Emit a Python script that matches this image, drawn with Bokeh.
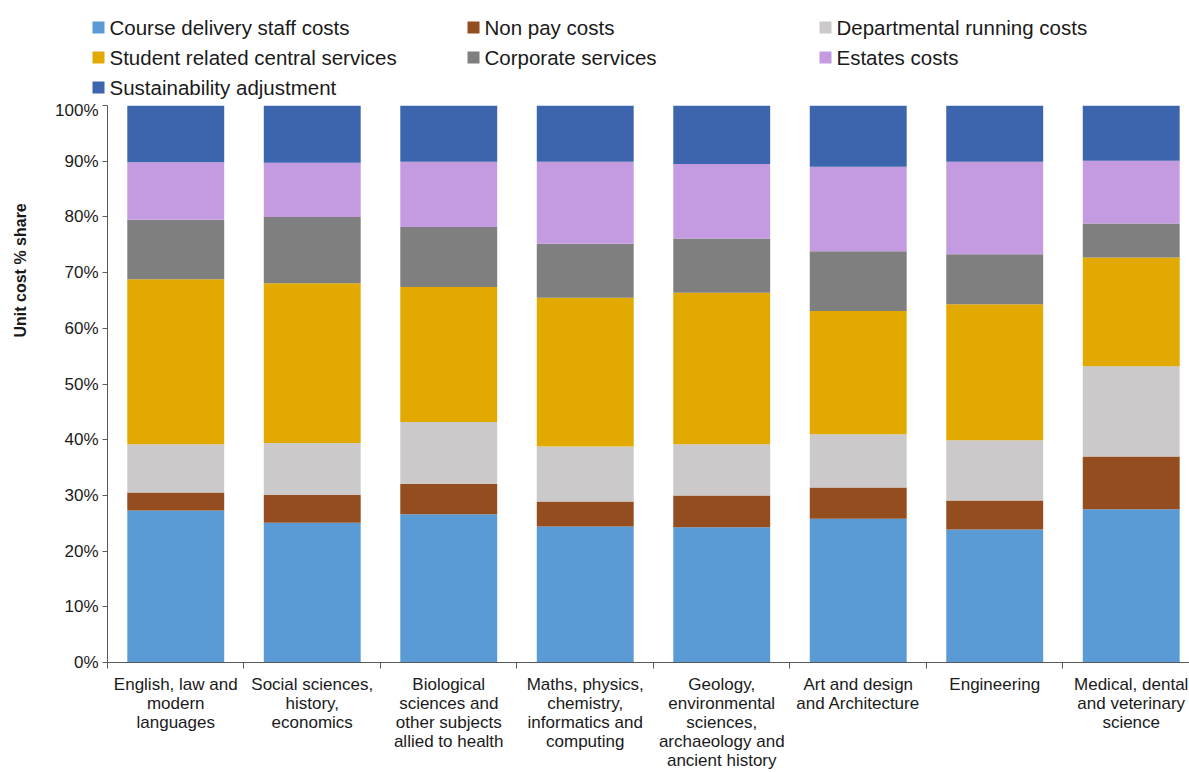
import math
from bokeh.plotting import figure
from bokeh.models import (Range1d, FixedTicker, LinearAxis, PrintfTickFormatter,
                          ColumnDataSource)
from bokeh.layouts import row
from bokeh.embed import file_html
from bokeh.resources import INLINE
from bokeh.core.properties import value

# ---------------- data ----------------
categories = [
    "English, law and\nmodern\nlanguages",
    "Social sciences,\nhistory,\neconomics",
    "Biological\nsciences and\nother subjects\nallied to health",
    "Maths, physics,\nchemistry,\ninformatics and\ncomputing",
    "Geology,\nenvironmental\nsciences,\narchaeology and\nancient history",
    "Art and design\nand Architecture",
    "Engineering",
    "Medical, dental\nand veterinary\nscience",
]
series = [
    "Course delivery staff costs",
    "Non pay costs",
    "Departmental running costs",
    "Student related central services",
    "Corporate services",
    "Estates costs",
    "Sustainability adjustment",
]
course_delivery = [27.3, 25.1, 26.6, 24.4, 24.3, 25.8, 23.9, 27.5]
non_pay = [3.2, 5.0, 5.5, 4.5, 5.7, 5.6, 5.2, 9.5]
departmental = [8.7, 9.3, 11.1, 9.9, 9.2, 9.6, 10.8, 16.2]
student_related = [29.6, 28.7, 24.2, 26.7, 27.2, 22.1, 24.4, 19.5]
corporate = [10.7, 11.9, 10.8, 9.7, 9.7, 10.75, 9.0, 6.1]
estates = [10.3, 9.7, 11.7, 14.7, 13.4, 15.15, 16.6, 11.3]
sustainability = [10.2, 10.3, 10.1, 10.1, 10.5, 11.0, 10.1, 9.9]
y_ticks = list(range(0, 101, 10))
y_title = "Unit cost % share"

colors = ["#5B9BD5", "#934D1E", "#CBC9C9", "#E2A900", "#7F7F7F", "#C49BE0", "#3D65AD"]
FONT = "Liberation Sans"

keys = ["s%d" % i for i in range(len(series))]
xs = [i + 0.5 for i in range(len(categories))]
data = dict(x=xs)
for k, vals in zip(keys, [course_delivery, non_pay, departmental, student_related,
                          corporate, estates, sustainability]):
    data[k] = vals
src = ColumnDataSource(data)

yr = Range1d(0, 100)

# ---------------- main chart ----------------
p = figure(width=1149, height=672, output_backend="svg", toolbar_location=None,
           x_range=Range1d(0, 7.927), y_range=yr,
           x_axis_type=None, y_axis_type=None,
           min_border_left=67, min_border_right=0, min_border_top=5,
           min_border_bottom=109)
p.outline_line_color = None
p.background_fill_color = "white"

p.vbar_stack(keys, x="x", width=0.71, source=src, color=colors, line_color=None)

yaxis = LinearAxis(ticker=FixedTicker(ticks=y_ticks),
                   formatter=PrintfTickFormatter(format="%d%%"))
yaxis.major_tick_out = 5
yaxis.major_tick_in = 0
yaxis.minor_tick_out = 0
yaxis.minor_tick_in = 0
yaxis.axis_line_color = "#595959"
yaxis.major_tick_line_color = "#595959"
yaxis.major_label_text_font = FONT
yaxis.major_label_text_font_size = "17px"
yaxis.major_label_text_color = "#1a1a1a"
yaxis.major_label_standoff = 4
p.add_layout(yaxis, "left")

xaxis = LinearAxis(ticker=FixedTicker(ticks=xs, minor_ticks=list(range(0, 9))))
xaxis.major_label_overrides = {x: c for x, c in zip(xs, categories)}
xaxis.major_tick_out = 0
xaxis.major_tick_in = 0
xaxis.minor_tick_out = 6
xaxis.minor_tick_in = 0
xaxis.minor_tick_line_color = "#595959"
xaxis.axis_line_color = "#595959"
xaxis.major_label_text_font = FONT
xaxis.major_label_text_font_size = "17px"
xaxis.major_label_text_color = "#1a1a1a"
xaxis.major_label_text_line_height = 1.0
xaxis.major_label_standoff = 6
p.add_layout(xaxis, "below")

p.ygrid.ticker = FixedTicker(ticks=y_ticks)
p.ygrid.grid_line_color = "#B8B8B8"
p.ygrid.grid_line_width = 1.5
p.xgrid.grid_line_color = None

# ---------------- y title strip (shares the y scale) ----------------
yt = figure(width=40, height=672, output_backend="svg", toolbar_location=None,
            x_range=Range1d(0, 40), y_range=yr,
            x_axis_type=None, y_axis_type=None,
            min_border_left=0, min_border_right=0, min_border_top=5,
            min_border_bottom=109)
yt.outline_line_color = None
yt.xgrid.visible = False
yt.ygrid.visible = False
yt.text(x=[20], y=[70.4], text=[y_title], angle=math.pi / 2,
        text_align="center", text_baseline="middle",
        text_font=value(FONT), text_font_size="16px", text_font_style="bold",
        text_color="#1a1a1a")

# ---------------- legend (separate root, drawn in pixel space) ----------------
lg = figure(width=1189, height=100, output_backend="svg", toolbar_location=None,
            x_range=Range1d(0, 1189), y_range=Range1d(100, 0),
            x_axis_type=None, y_axis_type=None,
            min_border_left=0, min_border_right=0, min_border_top=0,
            min_border_bottom=0)
lg.outline_line_color = None
lg.xgrid.visible = False
lg.ygrid.visible = False
col_x = [92, 467, 819]
row_y = [27, 57, 87]
lx = [col_x[i % 3] for i in range(len(series))]
ly = [row_y[i // 3] for i in range(len(series))]
lsrc = ColumnDataSource(dict(x=[v + 6 for v in lx], tx=[v + 17 for v in lx], y=ly,
                             name=series, color=colors))
lg.rect(x="x", y="y", width=12, height=12, source=lsrc, fill_color="color",
        line_color=None)
lg.text(x="tx", y="y", text="name", source=lsrc, text_font=value(FONT),
        text_font_size="20.5px", text_baseline="middle", text_align="left",
        text_color="#1a1a1a")

open("out.html", "w").write(file_html([lg, row(yt, p, spacing=0)], INLINE))
